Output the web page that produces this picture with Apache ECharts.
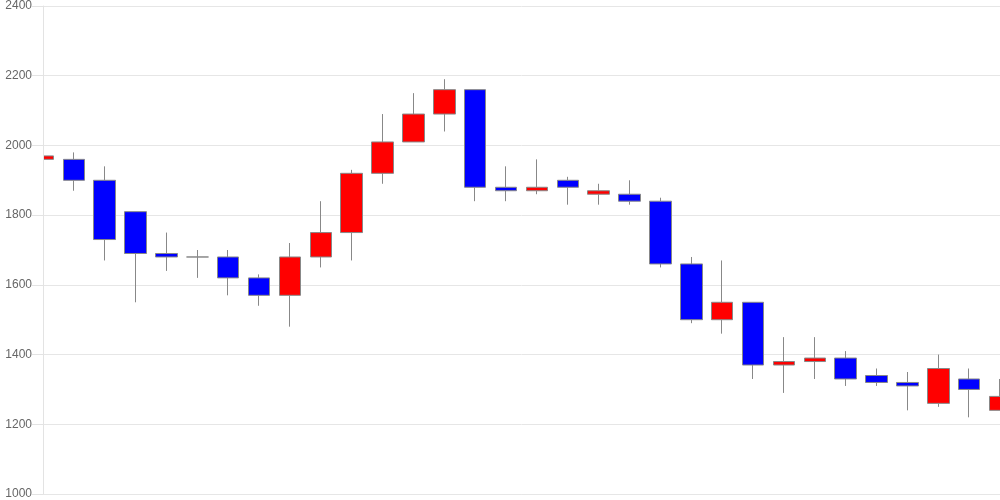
<!DOCTYPE html>
<html>
<head>
<meta charset="utf-8">
<script src="https://cdn.jsdelivr.net/npm/echarts@6/dist/echarts.min.js"></script>
<style>html,body{margin:0;padding:0;background:#fff;}#c{width:1000px;height:500px;}</style>
</head>
<body>
<div id="c"></div>
<script>
var categories = ['1','2','3','4','5','6','7','8','9','10','11','12','13','14','15','16','17','18','19','20','21','22','23','24','25','26','27','28','29','30','31','32'];
var opens  = [1960,1960,1900,1810,1690,1680,1680,1620,1570,1680,1750,1920,2010,2090,2160,1880,1870,1900,1860,1860,1840,1660,1500,1550,1370,1380,1390,1340,1320,1260,1330,1240];
var closes = [1970,1900,1730,1690,1680,1680,1620,1570,1680,1750,1920,2010,2090,2160,1880,1870,1880,1880,1870,1840,1660,1500,1550,1370,1380,1390,1330,1320,1310,1360,1300,1280];
var lows   = [1950,1870,1670,1550,1640,1620,1570,1540,1480,1650,1670,1890,2010,2040,1840,1840,1860,1830,1830,1830,1650,1490,1460,1330,1290,1330,1310,1310,1240,1250,1220,1240];
var highs  = [2020,1980,1940,1810,1750,1700,1700,1630,1720,1840,1930,2090,2150,2190,2160,1940,1960,1910,1890,1900,1850,1680,1670,1550,1450,1450,1410,1360,1350,1400,1360,1330];
var yTicks = [1000,1200,1400,1600,1800,2000,2200,2400];

var ohlc = categories.map(function(c,i){ return [opens[i], closes[i], lows[i], highs[i]]; });

var chart = echarts.init(document.getElementById('c'), null, {renderer:'canvas'});
var yMin = yTicks[0], yMax = yTicks[yTicks.length-1];
chart.setOption({
  animation:false,
  backgroundColor:'#fff',
  grid:{left:43, right:0, top:6, bottom:6, containLabel:false},
  graphic:[{
    type:'rect', z:10, silent:true,
    shape:{x:0, y:0, width:43, height:500},
    style:{fill:'#fff'}
  }],
  xAxis:{
    type:'category', data:categories, boundaryGap:false,
    axisLine:{show:true, lineStyle:{color:'#e6e6e6'}},
    axisTick:{show:false}, axisLabel:{show:false}, splitLine:{show:false}
  },
  yAxis:[{
    type:'value', position:'left', min:yMin, max:yMax, interval:200, z:0,
    axisLine:{show:false}, axisTick:{show:false}, axisLabel:{show:false},
    splitLine:{show:true, lineStyle:{color:'#e6e6e6'}}
  },{
    type:'value', position:'left', min:yMin, max:yMax, interval:200, z:20,
    axisLine:{show:true, lineStyle:{color:'#e3e3e3'}},
    axisTick:{show:true, length:11, lineStyle:{color:'#e3e3e3'}},
    axisLabel:{color:'#666', fontSize:12, fontFamily:'Liberation Sans, Arial, sans-serif', margin:11,
      formatter:function(v){ return String(v); }},
    splitLine:{show:false}
  }],
  series:[{
    type:'candlestick',
    data:ohlc,
    yAxisIndex:0,
    barWidth:22,
    itemStyle:{
      color:'#ff0000', color0:'#0000ff',
      borderColor:'#888', borderColor0:'#888', borderWidth:1
    }
  }]
});
</script>
</body>
</html>
